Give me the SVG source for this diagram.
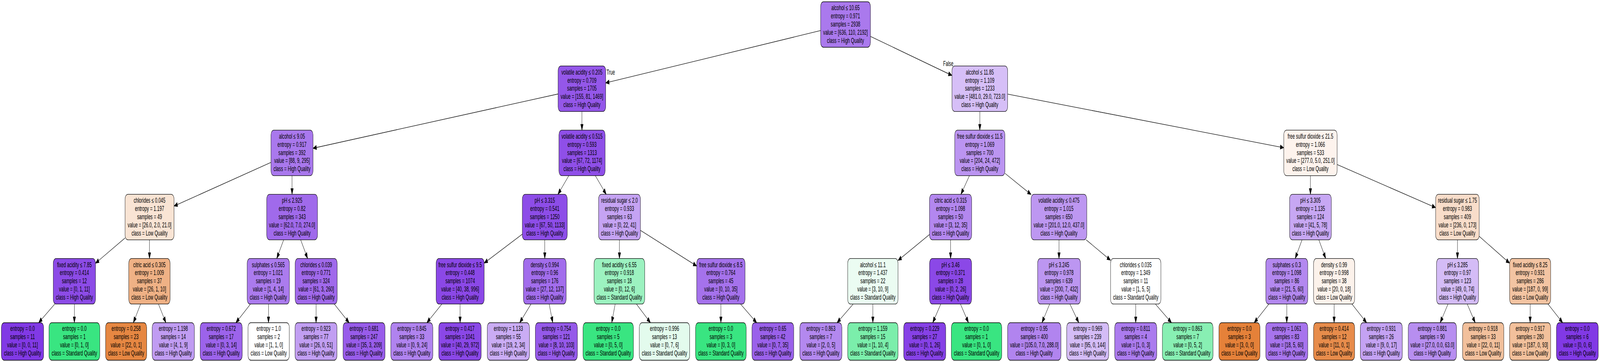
<svg xmlns="http://www.w3.org/2000/svg" width="6896" height="924" viewBox="0 0 6896 924" preserveAspectRatio="none">
<style>
svg{width:100vw;height:100vh;display:block}
.node rect{stroke:#000;stroke-width:1.3}
text{font-family:"Liberation Sans",Arial,Helvetica,sans-serif;font-size:18px;fill:#000;text-anchor:middle}
.lbl{text-anchor:start}
#edges line{stroke:#000;stroke-width:1.3;marker-end:url(#ah)}
</style>
<defs>
<marker id="ah" markerUnits="userSpaceOnUse" markerWidth="16" markerHeight="12" refX="15" refY="5.5" orient="auto" overflow="visible"><path d="M0,0 L15,5.5 L0,11 Z" fill="#000" stroke="#000" stroke-width="1"/></marker>
</defs>
<rect x="0" y="0" width="6896" height="924" fill="#fff"/>
<g id="edges">
<line x1="3537" y1="78.2" x2="2610.5" y2="212.2"/>
<line x1="3751.5" y1="93.1" x2="4103" y2="193"/>
<line x1="2405.5" y1="240.5" x2="1349" y2="379.5"/>
<line x1="2508.2" y1="285.3" x2="2508.2" y2="333.1"/>
<line x1="4223" y1="285.3" x2="4223" y2="333.1"/>
<line x1="4343" y1="240.9" x2="5533" y2="378.1"/>
<line x1="1168" y1="415.6" x2="750" y2="527.4"/>
<line x1="1258.8" y1="449.6" x2="1258.8" y2="497.4"/>
<line x1="2451.6" y1="449.6" x2="2404.9" y2="497.4"/>
<line x1="2565.8" y1="449.6" x2="2612.7" y2="497.4"/>
<line x1="4178.3" y1="449.6" x2="4141.7" y2="497.4"/>
<line x1="4331.2" y1="443.5" x2="4444" y2="497.8"/>
<line x1="5648" y1="449.6" x2="5648" y2="497.4"/>
<line x1="5763" y1="421.2" x2="6187.5" y2="531.3"/>
<line x1="539" y1="609.1" x2="411.5" y2="673.8"/>
<line x1="644.3" y1="613.9" x2="644.3" y2="661.7"/>
<line x1="1222.6" y1="613.9" x2="1192.8" y2="661.7"/>
<line x1="1295.8" y1="613.9" x2="1325.9" y2="661.7"/>
<line x1="2251.2" y1="599.3" x2="2086.8" y2="673.3"/>
<line x1="2348" y1="613.9" x2="2348" y2="661.7"/>
<line x1="2669.8" y1="613.9" x2="2669.8" y2="661.7"/>
<line x1="2760.3" y1="589.6" x2="3003" y2="680.9"/>
<line x1="4006.3" y1="600.1" x2="3870.5" y2="666.7"/>
<line x1="4097" y1="613.9" x2="4097" y2="661.7"/>
<line x1="4564.3" y1="613.9" x2="4564.3" y2="661.7"/>
<line x1="4681.4" y1="613.9" x2="4786.5" y2="666.1"/>
<line x1="5611.8" y1="613.9" x2="5582.2" y2="661.7"/>
<line x1="5684.2" y1="613.9" x2="5713.8" y2="661.7"/>
<line x1="6281.7" y1="613.9" x2="6281.7" y2="661.7"/>
<line x1="6375.5" y1="604.9" x2="6506.5" y2="673.6"/>
<line x1="236" y1="778.2" x2="166.6" y2="826"/>
<line x1="320.5" y1="778.2" x2="320.5" y2="826"/>
<line x1="606" y1="778.2" x2="574.8" y2="826"/>
<line x1="682.9" y1="778.2" x2="714.9" y2="826"/>
<line x1="1079.7" y1="778.2" x2="1016.7" y2="826"/>
<line x1="1157.2" y1="778.2" x2="1157.2" y2="826"/>
<line x1="1362.3" y1="778.2" x2="1362.3" y2="826"/>
<line x1="1440.7" y1="778.2" x2="1504.7" y2="826"/>
<line x1="1904.5" y1="778.2" x2="1839.9" y2="826"/>
<line x1="1983" y1="778.2" x2="1983" y2="826"/>
<line x1="2288.6" y1="778.2" x2="2239.9" y2="826"/>
<line x1="2366.9" y1="778.2" x2="2382.4" y2="826"/>
<line x1="2651.4" y1="778.2" x2="2636.6" y2="826"/>
<line x1="2743" y1="778.2" x2="2803.4" y2="826"/>
<line x1="3107" y1="778.2" x2="3107" y2="826"/>
<line x1="3191.7" y1="778.2" x2="3261.2" y2="826"/>
<line x1="3677.3" y1="778.2" x2="3607.8" y2="826"/>
<line x1="3762" y1="778.2" x2="3762" y2="826"/>
<line x1="4054.8" y1="778.2" x2="4020.2" y2="826"/>
<line x1="4139.4" y1="778.2" x2="4174.1" y2="826"/>
<line x1="4524.1" y1="778.2" x2="4491" y2="826"/>
<line x1="4611.2" y1="778.2" x2="4649.5" y2="826"/>
<line x1="4895" y1="778.2" x2="4895" y2="826"/>
<line x1="4979.7" y1="778.2" x2="5049.2" y2="826"/>
<line x1="5468.9" y1="778.2" x2="5405.6" y2="826"/>
<line x1="5546" y1="778.2" x2="5546" y2="826"/>
<line x1="5750" y1="778.2" x2="5750" y2="826"/>
<line x1="5826.9" y1="778.2" x2="5890.1" y2="826"/>
<line x1="6241" y1="778.2" x2="6207.3" y2="826"/>
<line x1="6323.7" y1="778.2" x2="6358" y2="826"/>
<line x1="6595" y1="778.2" x2="6595" y2="826"/>
<line x1="6671.9" y1="778.2" x2="6735" y2="826"/>
<text class="lbl" x="2614" y="191.5">True</text>
<text class="lbl" x="4065" y="169.5">False</text>
</g>
<g id="n0" class="node"><rect x="3537" y="4.5" width="214.5" height="116.5" rx="12" fill="#aa79ed"/><text x="3644" y="26.5">alcohol ≤ 10.65<tspan x="3644" dy="20.8">entropy = 0.971</tspan><tspan x="3644" dy="20.8">samples = 2938</tspan><tspan x="3644" dy="20.8">value = [636, 110, 2192]</tspan><tspan x="3644" dy="20.8">class = High Quality</tspan></text></g>
<g id="n1" class="node"><rect x="2405.5" y="168.8" width="205" height="116.5" rx="12" fill="#9457e9"/><text x="2508" y="190.8">volatile acidity ≤ 0.205<tspan x="2508" dy="20.8">entropy = 0.709</tspan><tspan x="2508" dy="20.8">samples = 1705</tspan><tspan x="2508" dy="20.8">value = [155, 81, 1469]</tspan><tspan x="2508" dy="20.8">class = High Quality</tspan></text></g>
<g id="n2" class="node"><rect x="4103" y="168.8" width="240" height="116.5" rx="12" fill="#d6bff7"/><text x="4223" y="190.8">alcohol ≤ 11.85<tspan x="4223" dy="20.8">entropy = 1.109</tspan><tspan x="4223" dy="20.8">samples = 1233</tspan><tspan x="4223" dy="20.8">value = [481.0, 29.0, 723.0]</tspan><tspan x="4223" dy="20.8">class = High Quality</tspan></text></g>
<g id="n3" class="node"><rect x="1168" y="333.1" width="181" height="116.5" rx="12" fill="#a978ed"/><text x="1258.5" y="355.1">alcohol ≤ 9.05<tspan x="1258.5" dy="20.8">entropy = 0.917</tspan><tspan x="1258.5" dy="20.8">samples = 392</tspan><tspan x="1258.5" dy="20.8">value = [88, 9, 295]</tspan><tspan x="1258.5" dy="20.8">class = High Quality</tspan></text></g>
<g id="n4" class="node"><rect x="2409" y="333.1" width="199" height="116.5" rx="12" fill="#8f4fe8"/><text x="2508.5" y="355.1">volatile acidity ≤ 0.515<tspan x="2508.5" dy="20.8">entropy = 0.593</tspan><tspan x="2508.5" dy="20.8">samples = 1313</tspan><tspan x="2508.5" dy="20.8">value = [67, 72, 1174]</tspan><tspan x="2508.5" dy="20.8">class = High Quality</tspan></text></g>
<g id="n5" class="node"><rect x="4114.75" y="333.1" width="216.5" height="116.5" rx="12" fill="#bb94f1"/><text x="4223" y="355.1">free sulfur dioxide ≤ 11.5<tspan x="4223" dy="20.8">entropy = 1.069</tspan><tspan x="4223" dy="20.8">samples = 700</tspan><tspan x="4223" dy="20.8">value = [204, 24, 472]</tspan><tspan x="4223" dy="20.8">class = High Quality</tspan></text></g>
<g id="n6" class="node"><rect x="5533" y="333.1" width="230" height="116.5" rx="12" fill="#fdf3ed"/><text x="5648" y="355.1">free sulfur dioxide ≤ 21.5<tspan x="5648" dy="20.8">entropy = 1.066</tspan><tspan x="5648" dy="20.8">samples = 533</tspan><tspan x="5648" dy="20.8">value = [277.0, 5.0, 251.0]</tspan><tspan x="5648" dy="20.8">class = Low Quality</tspan></text></g>
<g id="n7" class="node"><rect x="539" y="497.4" width="211" height="116.5" rx="12" fill="#f9e4d4"/><text x="644.5" y="519.4">chlorides ≤ 0.045<tspan x="644.5" dy="20.8">entropy = 1.197</tspan><tspan x="644.5" dy="20.8">samples = 49</tspan><tspan x="644.5" dy="20.8">value = [26.0, 2.0, 21.0]</tspan><tspan x="644.5" dy="20.8">class = Low Quality</tspan></text></g>
<g id="n8" class="node"><rect x="1149.5" y="497.4" width="219" height="116.5" rx="12" fill="#a06aeb"/><text x="1259" y="519.4">pH ≤ 2.925<tspan x="1259" dy="20.8">entropy = 0.82</tspan><tspan x="1259" dy="20.8">samples = 343</tspan><tspan x="1259" dy="20.8">value = [62.0, 7.0, 274.0]</tspan><tspan x="1259" dy="20.8">class = High Quality</tspan></text></g>
<g id="n9" class="node"><rect x="2251.2" y="497.4" width="193.6" height="116.5" rx="12" fill="#8d4de8"/><text x="2348" y="519.4">pH ≤ 3.315<tspan x="2348" dy="20.8">entropy = 0.541</tspan><tspan x="2348" dy="20.8">samples = 1250</tspan><tspan x="2348" dy="20.8">value = [67, 50, 1133]</tspan><tspan x="2348" dy="20.8">class = High Quality</tspan></text></g>
<g id="n10" class="node"><rect x="2579.7" y="497.4" width="180.6" height="116.5" rx="12" fill="#c5a3f3"/><text x="2670" y="519.4">residual sugar ≤ 2.0<tspan x="2670" dy="20.8">entropy = 0.933</tspan><tspan x="2670" dy="20.8">samples = 63</tspan><tspan x="2670" dy="20.8">value = [0, 22, 41]</tspan><tspan x="2670" dy="20.8">class = High Quality</tspan></text></g>
<g id="n11" class="node"><rect x="4006.3" y="497.4" width="181.4" height="116.5" rx="12" fill="#b387ef"/><text x="4097" y="519.4">citric acid ≤ 0.315<tspan x="4097" dy="20.8">entropy = 1.098</tspan><tspan x="4097" dy="20.8">samples = 50</tspan><tspan x="4097" dy="20.8">value = [3, 12, 35]</tspan><tspan x="4097" dy="20.8">class = High Quality</tspan></text></g>
<g id="n12" class="node"><rect x="4444" y="497.4" width="240" height="116.5" rx="12" fill="#bd97f1"/><text x="4564" y="519.4">volatile acidity ≤ 0.475<tspan x="4564" dy="20.8">entropy = 1.015</tspan><tspan x="4564" dy="20.8">samples = 650</tspan><tspan x="4564" dy="20.8">value = [201.0, 12.0, 437.0]</tspan><tspan x="4564" dy="20.8">class = High Quality</tspan></text></g>
<g id="n13" class="node"><rect x="5558" y="497.4" width="180" height="116.5" rx="12" fill="#c7a7f3"/><text x="5648" y="519.4">pH ≤ 3.305<tspan x="5648" dy="20.8">entropy = 1.135</tspan><tspan x="5648" dy="20.8">samples = 124</tspan><tspan x="5648" dy="20.8">value = [41, 5, 78]</tspan><tspan x="5648" dy="20.8">class = High Quality</tspan></text></g>
<g id="n14" class="node"><rect x="6187.5" y="497.4" width="188" height="116.5" rx="12" fill="#f8ddca"/><text x="6281.5" y="519.4">residual sugar ≤ 1.75<tspan x="6281.5" dy="20.8">entropy = 0.983</tspan><tspan x="6281.5" dy="20.8">samples = 409</tspan><tspan x="6281.5" dy="20.8">value = [236, 0, 173]</tspan><tspan x="6281.5" dy="20.8">class = Low Quality</tspan></text></g>
<g id="n15" class="node"><rect x="229.5" y="661.7" width="182" height="116.5" rx="12" fill="#8c4be7"/><text x="320.5" y="683.7">fixed acidity ≤ 7.85<tspan x="320.5" dy="20.8">entropy = 0.414</tspan><tspan x="320.5" dy="20.8">samples = 12</tspan><tspan x="320.5" dy="20.8">value = [0, 1, 11]</tspan><tspan x="320.5" dy="20.8">class = High Quality</tspan></text></g>
<g id="n16" class="node"><rect x="555" y="661.7" width="178" height="116.5" rx="12" fill="#efb185"/><text x="644" y="683.7">citric acid ≤ 0.305<tspan x="644" dy="20.8">entropy = 1.009</tspan><tspan x="644" dy="20.8">samples = 37</tspan><tspan x="644" dy="20.8">value = [26, 1, 10]</tspan><tspan x="644" dy="20.8">class = Low Quality</tspan></text></g>
<g id="n17" class="node"><rect x="1065.4" y="661.7" width="182" height="116.5" rx="12" fill="#ab7bee"/><text x="1156.4" y="683.7">sulphates ≤ 0.565<tspan x="1156.4" dy="20.8">entropy = 1.021</tspan><tspan x="1156.4" dy="20.8">samples = 19</tspan><tspan x="1156.4" dy="20.8">value = [1, 4, 14]</tspan><tspan x="1156.4" dy="20.8">class = High Quality</tspan></text></g>
<g id="n18" class="node"><rect x="1272.2" y="661.7" width="181" height="116.5" rx="12" fill="#a069eb"/><text x="1362.7" y="683.7">chlorides ≤ 0.039<tspan x="1362.7" dy="20.8">entropy = 0.771</tspan><tspan x="1362.7" dy="20.8">samples = 324</tspan><tspan x="1362.7" dy="20.8">value = [61, 3, 260]</tspan><tspan x="1362.7" dy="20.8">class = High Quality</tspan></text></g>
<g id="n19" class="node"><rect x="1879.8" y="661.7" width="207" height="116.5" rx="12" fill="#8b48e7"/><text x="1983.3" y="683.7">free sulfur dioxide ≤ 9.5<tspan x="1983.3" dy="20.8">entropy = 0.448</tspan><tspan x="1983.3" dy="20.8">samples = 1074</tspan><tspan x="1983.3" dy="20.8">value = [40, 38, 996]</tspan><tspan x="1983.3" dy="20.8">class = High Quality</tspan></text></g>
<g id="n20" class="node"><rect x="2256" y="661.7" width="184" height="116.5" rx="12" fill="#a26dec"/><text x="2348" y="683.7">density ≤ 0.994<tspan x="2348" dy="20.8">entropy = 0.96</tspan><tspan x="2348" dy="20.8">samples = 176</tspan><tspan x="2348" dy="20.8">value = [27, 12, 137]</tspan><tspan x="2348" dy="20.8">class = High Quality</tspan></text></g>
<g id="n21" class="node"><rect x="2560.5" y="661.7" width="218" height="116.5" rx="12" fill="#9cf2c0"/><text x="2669.5" y="683.7">fixed acidity ≤ 6.55<tspan x="2669.5" dy="20.8">entropy = 0.918</tspan><tspan x="2669.5" dy="20.8">samples = 18</tspan><tspan x="2669.5" dy="20.8">value = [0, 12, 6]</tspan><tspan x="2669.5" dy="20.8">class = Standard Quality</tspan></text></g>
<g id="n22" class="node"><rect x="3003" y="661.7" width="208" height="116.5" rx="12" fill="#a572ec"/><text x="3107" y="683.7">free sulfur dioxide ≤ 8.5<tspan x="3107" dy="20.8">entropy = 0.764</tspan><tspan x="3107" dy="20.8">samples = 45</tspan><tspan x="3107" dy="20.8">value = [0, 10, 35]</tspan><tspan x="3107" dy="20.8">class = High Quality</tspan></text></g>
<g id="n23" class="node"><rect x="3653.5" y="661.7" width="217" height="116.5" rx="12" fill="#ebfcf2"/><text x="3762" y="683.7">alcohol ≤ 11.1<tspan x="3762" dy="20.8">entropy = 1.437</tspan><tspan x="3762" dy="20.8">samples = 22</tspan><tspan x="3762" dy="20.8">value = [3, 10, 9]</tspan><tspan x="3762" dy="20.8">class = Standard Quality</tspan></text></g>
<g id="n24" class="node"><rect x="4006.5" y="661.7" width="181" height="116.5" rx="12" fill="#8b48e7"/><text x="4097" y="683.7">pH ≤ 3.46<tspan x="4097" dy="20.8">entropy = 0.371</tspan><tspan x="4097" dy="20.8">samples = 28</tspan><tspan x="4097" dy="20.8">value = [0, 2, 26]</tspan><tspan x="4097" dy="20.8">class = High Quality</tspan></text></g>
<g id="n25" class="node"><rect x="4472" y="661.7" width="185" height="116.5" rx="12" fill="#bc96f1"/><text x="4564.5" y="683.7">pH ≤ 3.245<tspan x="4564.5" dy="20.8">entropy = 0.978</tspan><tspan x="4564.5" dy="20.8">samples = 639</tspan><tspan x="4564.5" dy="20.8">value = [200, 7, 432]</tspan><tspan x="4564.5" dy="20.8">class = High Quality</tspan></text></g>
<g id="n26" class="node"><rect x="4786.5" y="661.7" width="217" height="116.5" rx="12" fill="#ffffff"/><text x="4895" y="683.7">chlorides ≤ 0.035<tspan x="4895" dy="20.8">entropy = 1.349</tspan><tspan x="4895" dy="20.8">samples = 11</tspan><tspan x="4895" dy="20.8">value = [1, 5, 5]</tspan><tspan x="4895" dy="20.8">class = Standard Quality</tspan></text></g>
<g id="n27" class="node"><rect x="5455.5" y="661.7" width="181" height="116.5" rx="12" fill="#b388ef"/><text x="5546" y="683.7">sulphates ≤ 0.3<tspan x="5546" dy="20.8">entropy = 1.098</tspan><tspan x="5546" dy="20.8">samples = 86</tspan><tspan x="5546" dy="20.8">value = [21, 5, 60]</tspan><tspan x="5546" dy="20.8">class = High Quality</tspan></text></g>
<g id="n28" class="node"><rect x="5661.5" y="661.7" width="177" height="116.5" rx="12" fill="#fcf2eb"/><text x="5750" y="683.7">density ≤ 0.99<tspan x="5750" dy="20.8">entropy = 0.998</tspan><tspan x="5750" dy="20.8">samples = 38</tspan><tspan x="5750" dy="20.8">value = [20, 0, 18]</tspan><tspan x="5750" dy="20.8">class = Low Quality</tspan></text></g>
<g id="n29" class="node"><rect x="6191.5" y="661.7" width="181" height="116.5" rx="12" fill="#d4bcf6"/><text x="6282" y="683.7">pH ≤ 3.285<tspan x="6282" dy="20.8">entropy = 0.97</tspan><tspan x="6282" dy="20.8">samples = 123</tspan><tspan x="6282" dy="20.8">value = [49, 0, 74]</tspan><tspan x="6282" dy="20.8">class = High Quality</tspan></text></g>
<g id="n30" class="node"><rect x="6506.5" y="661.7" width="177" height="116.5" rx="12" fill="#f3c4a2"/><text x="6595" y="683.7">fixed acidity ≤ 8.25<tspan x="6595" dy="20.8">entropy = 0.931</tspan><tspan x="6595" dy="20.8">samples = 286</tspan><tspan x="6595" dy="20.8">value = [187, 0, 99]</tspan><tspan x="6595" dy="20.8">class = Low Quality</tspan></text></g>
<g id="n31" class="node"><rect x="6" y="826" width="182" height="96" rx="12" fill="#8139e5"/><text x="97" y="847.5">entropy = 0.0<tspan x="97" dy="20.8">samples = 11</tspan><tspan x="97" dy="20.8">value = [0, 0, 11]</tspan><tspan x="97" dy="20.8">class = High Quality</tspan></text></g>
<g id="n32" class="node"><rect x="211" y="826" width="219" height="96" rx="12" fill="#39e581"/><text x="320.5" y="847.5">entropy = 0.0<tspan x="320.5" dy="20.8">samples = 1</tspan><tspan x="320.5" dy="20.8">value = [0, 1, 0]</tspan><tspan x="320.5" dy="20.8">class = Standard Quality</tspan></text></g>
<g id="n33" class="node"><rect x="455" y="826" width="177" height="96" rx="12" fill="#e68742"/><text x="543.5" y="847.5">entropy = 0.258<tspan x="543.5" dy="20.8">samples = 23</tspan><tspan x="543.5" dy="20.8">value = [22, 0, 1]</tspan><tspan x="543.5" dy="20.8">class = Low Quality</tspan></text></g>
<g id="n34" class="node"><rect x="656" y="826" width="182" height="96" rx="12" fill="#c09cf2"/><text x="747" y="847.5">entropy = 1.198<tspan x="747" dy="20.8">samples = 14</tspan><tspan x="747" dy="20.8">value = [4, 1, 9]</tspan><tspan x="747" dy="20.8">class = High Quality</tspan></text></g>
<g id="n35" class="node"><rect x="863" y="826" width="181" height="96" rx="12" fill="#9c63eb"/><text x="953.5" y="847.5">entropy = 0.672<tspan x="953.5" dy="20.8">samples = 17</tspan><tspan x="953.5" dy="20.8">value = [0, 3, 14]</tspan><tspan x="953.5" dy="20.8">class = High Quality</tspan></text></g>
<g id="n36" class="node"><rect x="1069" y="826" width="178" height="96" rx="12" fill="#ffffff"/><text x="1158" y="847.5">entropy = 1.0<tspan x="1158" dy="20.8">samples = 2</tspan><tspan x="1158" dy="20.8">value = [1, 1, 0]</tspan><tspan x="1158" dy="20.8">class = Low Quality</tspan></text></g>
<g id="n37" class="node"><rect x="1271.5" y="826" width="181" height="96" rx="12" fill="#c19ef2"/><text x="1362" y="847.5">entropy = 0.923<tspan x="1362" dy="20.8">samples = 77</tspan><tspan x="1362" dy="20.8">value = [26, 0, 51]</tspan><tspan x="1362" dy="20.8">class = High Quality</tspan></text></g>
<g id="n38" class="node"><rect x="1478.5" y="826" width="181" height="96" rx="12" fill="#985cea"/><text x="1569" y="847.5">entropy = 0.681<tspan x="1569" dy="20.8">samples = 247</tspan><tspan x="1569" dy="20.8">value = [35, 3, 209]</tspan><tspan x="1569" dy="20.8">class = High Quality</tspan></text></g>
<g id="n39" class="node"><rect x="1684.5" y="826" width="181" height="96" rx="12" fill="#b083ef"/><text x="1775" y="847.5">entropy = 0.845<tspan x="1775" dy="20.8">samples = 33</tspan><tspan x="1775" dy="20.8">value = [0, 9, 24]</tspan><tspan x="1775" dy="20.8">class = High Quality</tspan></text></g>
<g id="n40" class="node"><rect x="1891" y="826" width="183" height="96" rx="12" fill="#8a47e7"/><text x="1982.5" y="847.5">entropy = 0.417<tspan x="1982.5" dy="20.8">samples = 1041</tspan><tspan x="1982.5" dy="20.8">value = [40, 29, 972]</tspan><tspan x="1982.5" dy="20.8">class = High Quality</tspan></text></g>
<g id="n41" class="node"><rect x="2100" y="826" width="182" height="96" rx="12" fill="#caacf4"/><text x="2191" y="847.5">entropy = 1.133<tspan x="2191" dy="20.8">samples = 55</tspan><tspan x="2191" dy="20.8">value = [19, 2, 34]</tspan><tspan x="2191" dy="20.8">class = High Quality</tspan></text></g>
<g id="n42" class="node"><rect x="2307.5" y="826" width="181" height="96" rx="12" fill="#9559e9"/><text x="2398" y="847.5">entropy = 0.754<tspan x="2398" dy="20.8">samples = 121</tspan><tspan x="2398" dy="20.8">value = [8, 10, 103]</tspan><tspan x="2398" dy="20.8">class = High Quality</tspan></text></g>
<g id="n43" class="node"><rect x="2513" y="826" width="217" height="96" rx="12" fill="#39e581"/><text x="2621.5" y="847.5">entropy = 0.0<tspan x="2621.5" dy="20.8">samples = 5</tspan><tspan x="2621.5" dy="20.8">value = [0, 5, 0]</tspan><tspan x="2621.5" dy="20.8">class = Standard Quality</tspan></text></g>
<g id="n44" class="node"><rect x="2755.5" y="826" width="217" height="96" rx="12" fill="#e3fbed"/><text x="2864" y="847.5">entropy = 0.996<tspan x="2864" dy="20.8">samples = 13</tspan><tspan x="2864" dy="20.8">value = [0, 7, 6]</tspan><tspan x="2864" dy="20.8">class = Standard Quality</tspan></text></g>
<g id="n45" class="node"><rect x="2998" y="826" width="218" height="96" rx="12" fill="#39e581"/><text x="3107" y="847.5">entropy = 0.0<tspan x="3107" dy="20.8">samples = 3</tspan><tspan x="3107" dy="20.8">value = [0, 3, 0]</tspan><tspan x="3107" dy="20.8">class = Standard Quality</tspan></text></g>
<g id="n46" class="node"><rect x="3241" y="826" width="180" height="96" rx="12" fill="#9a61ea"/><text x="3331" y="847.5">entropy = 0.65<tspan x="3331" dy="20.8">samples = 42</tspan><tspan x="3331" dy="20.8">value = [0, 7, 35]</tspan><tspan x="3331" dy="20.8">class = High Quality</tspan></text></g>
<g id="n47" class="node"><rect x="3447.5" y="826" width="181" height="96" rx="12" fill="#b388ef"/><text x="3538" y="847.5">entropy = 0.863<tspan x="3538" dy="20.8">samples = 7</tspan><tspan x="3538" dy="20.8">value = [2, 0, 5]</tspan><tspan x="3538" dy="20.8">class = High Quality</tspan></text></g>
<g id="n48" class="node"><rect x="3653.5" y="826" width="217" height="96" rx="12" fill="#7beeab"/><text x="3762" y="847.5">entropy = 1.159<tspan x="3762" dy="20.8">samples = 15</tspan><tspan x="3762" dy="20.8">value = [1, 10, 4]</tspan><tspan x="3762" dy="20.8">class = Standard Quality</tspan></text></g>
<g id="n49" class="node"><rect x="3895" y="826" width="181" height="96" rx="12" fill="#8641e6"/><text x="3985.5" y="847.5">entropy = 0.229<tspan x="3985.5" dy="20.8">samples = 27</tspan><tspan x="3985.5" dy="20.8">value = [0, 1, 26]</tspan><tspan x="3985.5" dy="20.8">class = High Quality</tspan></text></g>
<g id="n50" class="node"><rect x="4100.5" y="826" width="217" height="96" rx="12" fill="#39e581"/><text x="4209" y="847.5">entropy = 0.0<tspan x="4209" dy="20.8">samples = 1</tspan><tspan x="4209" dy="20.8">value = [0, 1, 0]</tspan><tspan x="4209" dy="20.8">class = Standard Quality</tspan></text></g>
<g id="n51" class="node"><rect x="4342.7" y="826" width="230" height="96" rx="12" fill="#b184ef"/><text x="4457.7" y="847.5">entropy = 0.95<tspan x="4457.7" dy="20.8">samples = 400</tspan><tspan x="4457.7" dy="20.8">value = [105.0, 7.0, 288.0]</tspan><tspan x="4457.7" dy="20.8">class = High Quality</tspan></text></g>
<g id="n52" class="node"><rect x="4597.5" y="826" width="181" height="96" rx="12" fill="#d4bcf6"/><text x="4688" y="847.5">entropy = 0.969<tspan x="4688" dy="20.8">samples = 239</tspan><tspan x="4688" dy="20.8">value = [95, 0, 144]</tspan><tspan x="4688" dy="20.8">class = High Quality</tspan></text></g>
<g id="n53" class="node"><rect x="4804.5" y="826" width="181" height="96" rx="12" fill="#ab7bee"/><text x="4895" y="847.5">entropy = 0.811<tspan x="4895" dy="20.8">samples = 4</tspan><tspan x="4895" dy="20.8">value = [1, 0, 3]</tspan><tspan x="4895" dy="20.8">class = High Quality</tspan></text></g>
<g id="n54" class="node"><rect x="5010" y="826" width="218" height="96" rx="12" fill="#88efb3"/><text x="5119" y="847.5">entropy = 0.863<tspan x="5119" dy="20.8">samples = 7</tspan><tspan x="5119" dy="20.8">value = [0, 5, 2]</tspan><tspan x="5119" dy="20.8">class = Standard Quality</tspan></text></g>
<g id="n55" class="node"><rect x="5253.5" y="826" width="177" height="96" rx="12" fill="#e58139"/><text x="5342" y="847.5">entropy = 0.0<tspan x="5342" dy="20.8">samples = 3</tspan><tspan x="5342" dy="20.8">value = [3, 0, 0]</tspan><tspan x="5342" dy="20.8">class = Low Quality</tspan></text></g>
<g id="n56" class="node"><rect x="5455.5" y="826" width="181" height="96" rx="12" fill="#a774ed"/><text x="5546" y="847.5">entropy = 1.061<tspan x="5546" dy="20.8">samples = 83</tspan><tspan x="5546" dy="20.8">value = [18, 5, 60]</tspan><tspan x="5546" dy="20.8">class = High Quality</tspan></text></g>
<g id="n57" class="node"><rect x="5661.5" y="826" width="177" height="96" rx="12" fill="#e78c4b"/><text x="5750" y="847.5">entropy = 0.414<tspan x="5750" dy="20.8">samples = 12</tspan><tspan x="5750" dy="20.8">value = [11, 0, 1]</tspan><tspan x="5750" dy="20.8">class = Low Quality</tspan></text></g>
<g id="n58" class="node"><rect x="5863" y="826" width="181" height="96" rx="12" fill="#c4a2f3"/><text x="5953.5" y="847.5">entropy = 0.931<tspan x="5953.5" dy="20.8">samples = 26</tspan><tspan x="5953.5" dy="20.8">value = [9, 0, 17]</tspan><tspan x="5953.5" dy="20.8">class = High Quality</tspan></text></g>
<g id="n59" class="node"><rect x="6069.5" y="826" width="208" height="96" rx="12" fill="#b78ef0"/><text x="6173.5" y="847.5">entropy = 0.881<tspan x="6173.5" dy="20.8">samples = 90</tspan><tspan x="6173.5" dy="20.8">value = [27.0, 0.0, 63.0]</tspan><tspan x="6173.5" dy="20.8">class = High Quality</tspan></text></g>
<g id="n60" class="node"><rect x="6303.5" y="826" width="178" height="96" rx="12" fill="#f2c09c"/><text x="6392.5" y="847.5">entropy = 0.918<tspan x="6392.5" dy="20.8">samples = 33</tspan><tspan x="6392.5" dy="20.8">value = [22, 0, 11]</tspan><tspan x="6392.5" dy="20.8">class = Low Quality</tspan></text></g>
<g id="n61" class="node"><rect x="6506.5" y="826" width="177" height="96" rx="12" fill="#f2c09b"/><text x="6595" y="847.5">entropy = 0.917<tspan x="6595" dy="20.8">samples = 280</tspan><tspan x="6595" dy="20.8">value = [187, 0, 93]</tspan><tspan x="6595" dy="20.8">class = Low Quality</tspan></text></g>
<g id="n62" class="node"><rect x="6708.5" y="826" width="180" height="96" rx="12" fill="#8139e5"/><text x="6798.5" y="847.5">entropy = 0.0<tspan x="6798.5" dy="20.8">samples = 6</tspan><tspan x="6798.5" dy="20.8">value = [0, 0, 6]</tspan><tspan x="6798.5" dy="20.8">class = High Quality</tspan></text></g>
</svg>
